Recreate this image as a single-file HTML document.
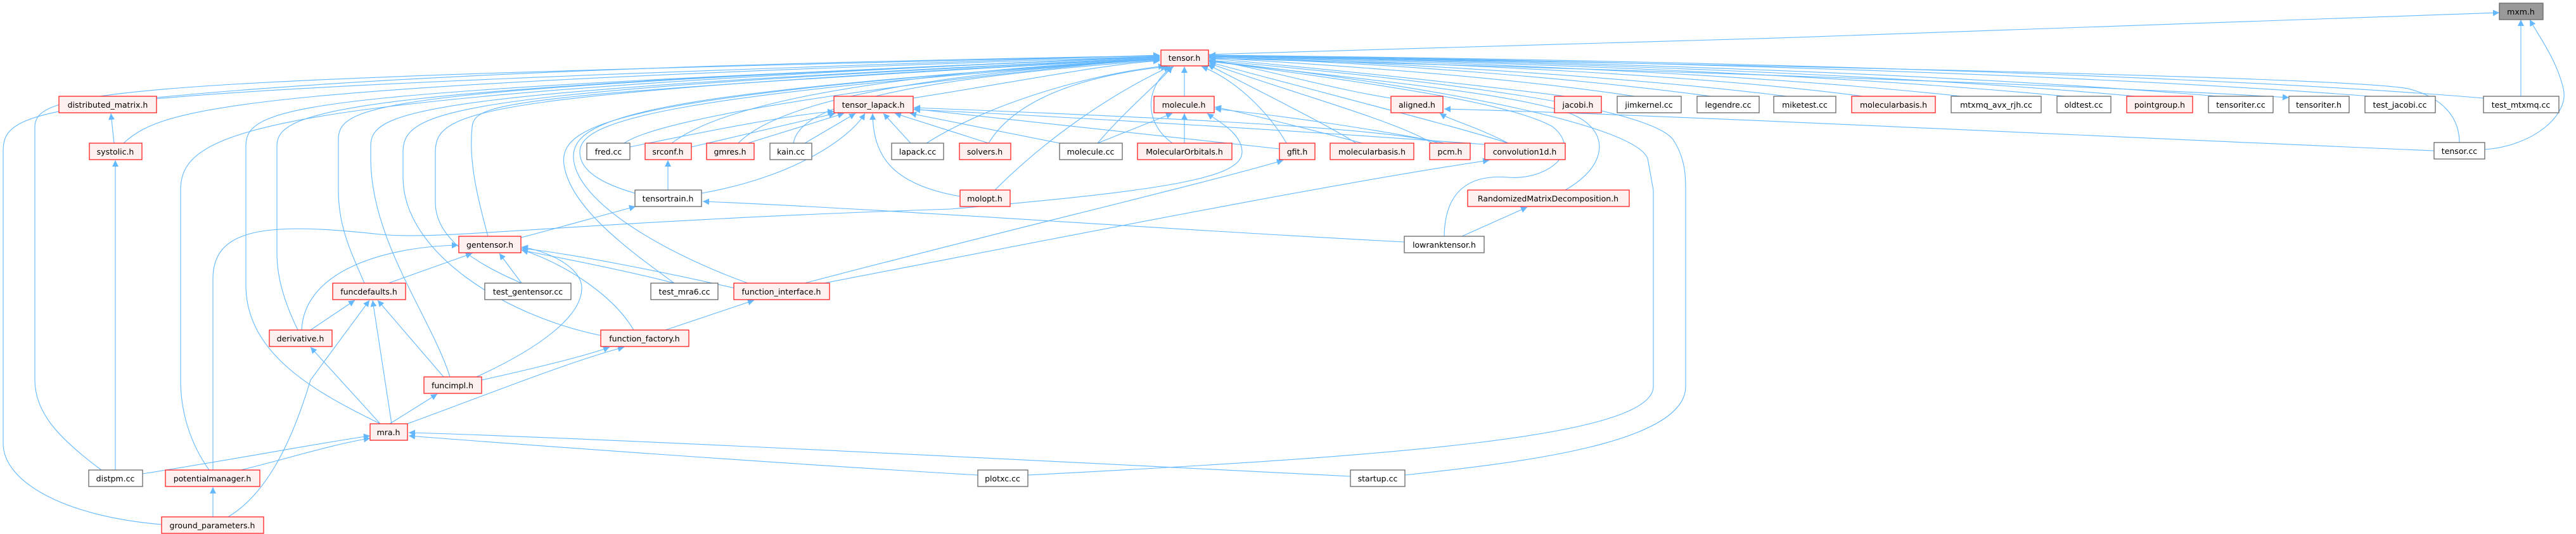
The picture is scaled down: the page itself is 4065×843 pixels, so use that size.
<!DOCTYPE html>
<html><head><meta charset="utf-8"><style>
html,body{margin:0;padding:0;background:#fff;}
svg{display:block;}
.e{fill:none;stroke:#63b8ff;stroke-width:1.1;}
.r{fill:#fff0f0;stroke:#ff2020;stroke-width:1.3;}
.b{fill:#fff;stroke:#666;stroke-width:1.3;}
.g{fill:#999;stroke:#666;stroke-width:1.3;}
text{font-family:"DejaVu Sans","Liberation Sans",sans-serif;font-size:12.5px;fill:#000;text-anchor:middle;}
</style></head><body>
<svg width="4065" height="843" viewBox="0 0 4065 843" xmlns="http://www.w3.org/2000/svg">
<defs><marker id="a" viewBox="0 0 10 10" refX="10" refY="5" markerWidth="10" markerHeight="10" markerUnits="userSpaceOnUse" orient="auto"><path d="M0,0 L10,5 L0,10 z" fill="#63b8ff"/></marker></defs>
<g class="e" marker-end="url(#a)">
<!-- to mxm.h -->
<path d="M1906,86 C2500,70 3500,40 3944,20"/>
<path d="M3978,152 L3978,31"/>
<path d="M3921,236 C4000,230 4055,180 4045,140 C4035,95 4005,55 3992,31"/>
<!-- left nodes to tensor.h -->
<path d="M247,154 C700,110 1400,95 1830,88"/>
<path d="M195,226 C260,165 400,135 1830,89"/>
<path d="M160,742 C90,690 55,650 55,600 L55,200 C55,140 200,125 1830,88"/>
<path d="M255,828 C100,815 5,760 5,700 L5,240 C5,160 60,145 1830,87"/>
<path d="M330,742 C300,700 285,650 285,600 L285,300 C285,200 420,150 1830,89"/>
<path d="M600,669 C500,620 388,560 388,450 L388,230 C388,160 500,145 1830,90"/>
<path d="M470,521 C450,480 437,440 437,400 L437,230 C437,170 560,140 1830,90"/>
<path d="M575,447 C555,400 534,360 534,300 L534,220 C534,160 620,140 1830,90"/>
<path d="M710,595 C680,500 585,380 585,250 L585,230 C585,170 680,145 1830,91"/>
<path d="M950,530 C800,500 636,400 636,280 L636,240 C636,170 720,145 1830,91"/>
<path d="M823,447 C760,420 687,380 687,320 L687,240 C687,170 760,150 1830,91"/>
<path d="M770,373 C750,300 740,250 745,200 C750,160 800,150 1830,92"/>
<path d="M985,226 C1050,180 1500,120 1830,92"/>
<path d="M1064,447 C1000,400 900,330 890,260 C880,190 1000,150 1830,92"/>
<path d="M1180,447 C1050,400 910,320 905,250 C900,180 1050,145 1830,93"/>
<path d="M1002,305 C950,290 915,270 915,240 C915,190 1050,150 1830,93"/>
<path d="M1060,226 C1120,180 1300,120 1830,93"/>
<path d="M1165,226 C1220,170 1400,120 1830,94"/>
<path d="M1252,226 C1260,180 1350,130 1830,95"/>
<path d="M1440,155 C1600,130 1750,100 1830,96"/>
<path d="M1462,226 C1550,170 1700,120 1838,104"/>
<path d="M1560,226 C1600,160 1700,120 1842,105"/>
<path d="M1570,300 C1650,220 1750,150 1846,105"/>
<path d="M1732,226 C1780,170 1830,130 1850,105"/>
<path d="M1850,226 C1800,190 1810,130 1852,105"/>
<path d="M1869,152 L1869,105"/>
<!-- right nodes to tensor.h -->
<path d="M2195,155 C2100,140 2000,110 1908,94"/>
<path d="M2030,226 C2010,190 1960,130 1896,105"/>
<path d="M2140,226 C2100,200 1980,140 1906,102"/>
<path d="M2260,226 C2200,190 2050,150 1908,100"/>
<path d="M2380,226 C2300,200 2100,150 1908,98"/>
<path d="M2470,300 C2540,260 2540,205 2480,180 C2400,150 2200,130 1908,97"/>
<path d="M2279,373 C2280,300 2320,275 2380,280 C2440,285 2500,240 2450,200 C2380,160 2150,130 1908,96"/>
<path d="M2217,750 C2400,730 2660,700 2660,610 L2660,300 C2660,280 2660,250 2640,220 C2600,170 2300,130 1908,95"/>
<path d="M1622,750 C2200,720 2609,690 2609,610 L2609,300 L2600,250 C2580,200 2300,140 1908,96"/>
<path d="M2470,152 C2300,130 2100,110 1908,92"/>
<path d="M2580,152 C2400,125 2150,105 1908,91"/>
<path d="M2700,152 C2500,125 2200,100 1908,90"/>
<path d="M2820,152 C2600,125 2250,100 1908,90"/>
<path d="M2940,152 C2700,120 2300,100 1908,89"/>
<path d="M3095,152 C2800,120 2350,98 1908,89"/>
<path d="M3260,152 C2900,118 2400,98 1908,88"/>
<path d="M3370,152 C3000,118 2450,97 1908,88"/>
<path d="M3500,152 C3100,118 2500,96 1908,88"/>
<path d="M3740,152 C3300,118 2600,96 1908,87"/>
<path d="M3920,155 C3500,120 2700,95 1908,87"/>
<path d="M3881,225 C3881,190 3860,155 3800,140 C3700,120 2600,100 1908,87"/>
<path d="M1908,92 C2600,110 3300,135 3612,154"/>
<!-- misc -->
<path d="M3841,238 C3300,215 2600,180 2279,172"/>
<path d="M2380,226 C2330,200 2290,190 2272,179"/>
<path d="M2307,373 L2410,327"/>
<path d="M2216,382 C1800,360 1400,330 1109,318"/>
<path d="M2131,752 C1500,720 900,690 645,683"/>
<path d="M1543,750 C1200,730 800,700 645,688"/>
<path d="M1270,447 C1600,360 1900,290 2025,253"/>
<path d="M1300,447 C1700,370 2100,290 2350,253"/>
<path d="M225,748 C400,720 500,700 584,688"/>
<path d="M380,742 C450,725 530,700 584,692"/>
<path d="M336,816 L336,769"/>
<path d="M360,816 C420,780 460,700 490,600 L583,474"/>
<path d="M182,742 L182,253"/>
<path d="M180,226 L175,179"/>
<path d="M600,669 L490,548"/>
<path d="M618,669 L588,474"/>
<path d="M615,669 L690,622"/>
<path d="M640,670 C750,630 900,570 985,548"/>
<path d="M700,595 L596,474"/>
<path d="M760,600 C850,580 930,560 962,548"/>
<path d="M752,595 C850,550 918,500 918,455 C918,420 860,395 823,390"/>
<path d="M490,521 L560,474"/>
<path d="M476,521 C480,430 600,390 723,387"/>
<path d="M613,447 L745,400"/>
<path d="M823,447 L788,400"/>
<path d="M1064,447 C1000,430 900,410 823,395"/>
<path d="M1160,455 C1050,430 900,400 823,392"/>
<path d="M1000,521 C970,470 900,420 823,394"/>
<path d="M1050,521 L1190,474"/>
<path d="M822,375 C880,360 950,340 1003,326"/>
<path d="M1054,300 L1054,253"/>
<path d="M336,742 L336,440 C336,360 420,350 600,370 C700,380 900,350 1500,330 C1850,300 1960,280 1960,240 C1960,210 1920,190 1905,179"/>
<!-- into tensor_lapack -->
<path d="M994,232 C1100,210 1250,180 1316,176"/>
<path d="M1091,232 L1318,179"/>
<path d="M1180,226 L1332,179"/>
<path d="M1270,226 L1350,179"/>
<path d="M1107,305 C1250,280 1340,220 1365,179"/>
<path d="M1437,226 L1394,179"/>
<path d="M1560,226 L1412,179"/>
<path d="M1515,310 C1400,290 1378,240 1377,179"/>
<path d="M1672,226 L1436,179"/>
<path d="M2270,226 C2200,200 1700,180 1442,170"/>
<path d="M2343,228 C2100,210 1700,185 1442,173"/>
<path d="M2019,235 C1800,210 1600,190 1442,172"/>
<!-- into molecule.h -->
<path d="M1732,226 L1850,179"/>
<path d="M1869,226 L1869,179"/>
<path d="M2150,226 C2050,200 1950,175 1917,169"/>
<path d="M2280,226 C2150,200 2000,180 1917,172"/>
</g>
<g>
<rect class="g" x="3944" y="5" width="69" height="26"/><text x="3978" y="23">mxm.h</text>
<rect class="r" x="1832" y="79" width="75" height="25"/><text x="1869" y="96">tensor.h</text>
<rect class="r" x="93" y="152" width="154" height="26"/><text x="170" y="170">distributed_matrix.h</text>
<rect class="r" x="1316" y="152" width="125" height="26"/><text x="1378" y="170">tensor_lapack.h</text>
<rect class="r" x="1821" y="152" width="95" height="26"/><text x="1868" y="170">molecule.h</text>
<rect class="r" x="2195" y="152" width="82" height="26"/><text x="2236" y="170">aligned.h</text>
<rect class="r" x="2453" y="152" width="74" height="26"/><text x="2490" y="170">jacobi.h</text>
<rect class="b" x="2552" y="152" width="101" height="26"/><text x="2602" y="170">jimkernel.cc</text>
<rect class="b" x="2678" y="152" width="98" height="26"/><text x="2727" y="170">legendre.cc</text>
<rect class="b" x="2799" y="152" width="98" height="26"/><text x="2848" y="170">miketest.cc</text>
<rect class="r" x="2922" y="152" width="132" height="26"/><text x="2988" y="170">molecularbasis.h</text>
<rect class="b" x="3079" y="152" width="142" height="26"/><text x="3150" y="170">mtxmq_avx_rjh.cc</text>
<rect class="b" x="3246" y="152" width="85" height="26"/><text x="3288" y="170">oldtest.cc</text>
<rect class="r" x="3356" y="152" width="104" height="26"/><text x="3408" y="170">pointgroup.h</text>
<rect class="b" x="3485" y="152" width="102" height="26"/><text x="3536" y="170">tensoriter.cc</text>
<rect class="b" x="3612" y="152" width="95" height="26"/><text x="3659" y="170">tensoriter.h</text>
<rect class="b" x="3732" y="152" width="111" height="26"/><text x="3787" y="170">test_jacobi.cc</text>
<rect class="b" x="3919" y="152" width="119" height="26"/><text x="3978" y="170">test_mtxmq.cc</text>
<rect class="r" x="141" y="226" width="83" height="26"/><text x="182" y="244">systolic.h</text>
<rect class="b" x="926" y="226" width="68" height="26"/><text x="960" y="244">fred.cc</text>
<rect class="r" x="1018" y="226" width="73" height="26"/><text x="1054" y="244">srconf.h</text>
<rect class="r" x="1115" y="226" width="75" height="26"/><text x="1152" y="244">gmres.h</text>
<rect class="b" x="1215" y="226" width="66" height="26"/><text x="1248" y="244">kain.cc</text>
<rect class="b" x="1407" y="226" width="82" height="26"/><text x="1448" y="244">lapack.cc</text>
<rect class="r" x="1514" y="226" width="81" height="26"/><text x="1554" y="244">solvers.h</text>
<rect class="b" x="1672" y="226" width="99" height="26"/><text x="1721" y="244">molecule.cc</text>
<rect class="r" x="1795" y="226" width="149" height="26"/><text x="1869" y="244">MolecularOrbitals.h</text>
<rect class="r" x="2019" y="226" width="56" height="26"/><text x="2047" y="244">gfit.h</text>
<rect class="r" x="2099" y="226" width="132" height="26"/><text x="2165" y="244">molecularbasis.h</text>
<rect class="r" x="2256" y="226" width="64" height="26"/><text x="2288" y="244">pcm.h</text>
<rect class="r" x="2343" y="226" width="127" height="26"/><text x="2406" y="244">convolution1d.h</text>
<rect class="b" x="3841" y="225" width="80" height="26"/><text x="3881" y="243">tensor.cc</text>
<rect class="b" x="1002" y="300" width="105" height="26"/><text x="1054" y="318">tensortrain.h</text>
<rect class="r" x="1515" y="300" width="79" height="26"/><text x="1554" y="318">molopt.h</text>
<rect class="r" x="2316" y="300" width="255" height="26"/><text x="2443" y="318">RandomizedMatrixDecomposition.h</text>
<rect class="r" x="724" y="373" width="98" height="26"/><text x="773" y="391">gentensor.h</text>
<rect class="b" x="2216" y="373" width="126" height="26"/><text x="2279" y="391">lowranktensor.h</text>
<rect class="r" x="525" y="447" width="115" height="26"/><text x="582" y="465">funcdefaults.h</text>
<rect class="b" x="765" y="447" width="136" height="26"/><text x="833" y="465">test_gentensor.cc</text>
<rect class="b" x="1027" y="447" width="106" height="26"/><text x="1080" y="465">test_mra6.cc</text>
<rect class="r" x="1158" y="447" width="151" height="26"/><text x="1233" y="465">function_interface.h</text>
<rect class="r" x="425" y="521" width="99" height="26"/><text x="474" y="539">derivative.h</text>
<rect class="r" x="948" y="521" width="139" height="26"/><text x="1017" y="539">function_factory.h</text>
<rect class="r" x="669" y="595" width="91" height="26"/><text x="714" y="613">funcimpl.h</text>
<rect class="r" x="584" y="669" width="59" height="26"/><text x="613" y="687">mra.h</text>
<rect class="b" x="140" y="742" width="85" height="26"/><text x="182" y="760">distpm.cc</text>
<rect class="r" x="261" y="742" width="149" height="26"/><text x="335" y="760">potentialmanager.h</text>
<rect class="b" x="1543" y="742" width="79" height="26"/><text x="1582" y="760">plotxc.cc</text>
<rect class="b" x="2131" y="742" width="86" height="26"/><text x="2174" y="760">startup.cc</text>
<rect class="r" x="255" y="816" width="161" height="26"/><text x="335" y="834">ground_parameters.h</text>
</g>
</svg>
</body></html>
